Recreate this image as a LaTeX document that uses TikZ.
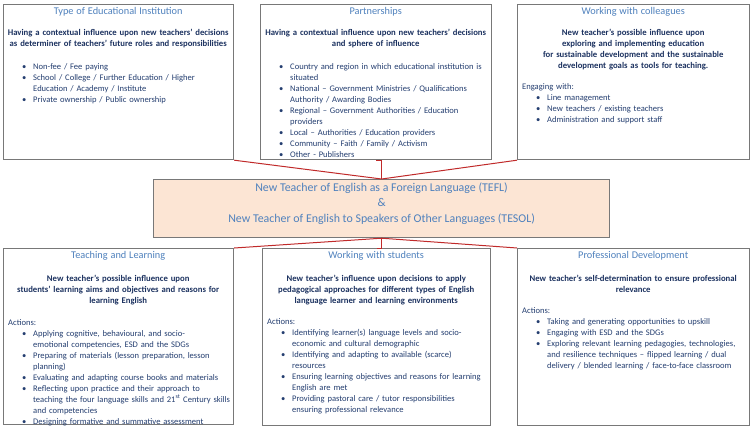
\documentclass[tikz,border=0pt]{standalone}
\usepackage{fontspec}
\setmainfont{Carlito}
\usetikzlibrary{positioning}

\definecolor{titleblue}{RGB}{79,129,189}
\definecolor{leadnavy}{RGB}{28,50,96}
\definecolor{bodyblue}{RGB}{36,62,112}
\definecolor{edgegray}{RGB}{120,120,120}
\definecolor{linkred}{RGB}{192,42,42}
\definecolor{peach}{RGB}{252,229,212}

% title, lead and list lines inside the panels
\newcommand{\paneltitle}[2][10pt]{{\centering\color{titleblue}\fontsize{10.3}{11}\selectfont #2\par}\vspace{#1}}
\newcommand{\panellead}[2][12pt]{{\centering\leftskip=-20pt plus 1fil\rightskip=-20pt plus 1fil\bfseries\fontsize{8.7}{11}\selectfont\color{leadnavy}#2\par}\vspace{#1}}
\newcommand{\bitem}[1]{\par\rightskip=-40pt plus 1fil\hangindent=25pt\hangafter=1\noindent\hbox to 25pt{\hskip14pt\textbullet\hfil}{\let\\\newline #1}\par}
\newcommand{\plainline}[1]{\par\rightskip=-40pt plus 1fil\noindent #1\par}

\begin{document}
\begin{tikzpicture}[x=1pt, y=-1pt,
    panel/.style={draw=edgegray, line width=1.2pt, fill=white, anchor=north west, inner sep=0pt},
    hub/.style={panel, fill=peach},
    txt/.style={anchor=north west, inner sep=0pt, align=left, text=bodyblue, font=\fontsize{8.55}{11}\selectfont},
    link/.style={draw=linkred, line width=1pt}]
  \useasboundingbox (0,0) rectangle (752,428);

  % ====== KHUNG CÁC Ô ======
  \node[panel, minimum width=230pt, minimum height=155pt] (inst) at (3,4) {};
  \node[panel, minimum width=231pt, minimum height=155pt] (part) at (260,4) {};
  \node[panel, minimum width=232pt, minimum height=155pt] (coll) at (517,4) {};
  \node[hub, minimum width=456pt, minimum height=58pt] (tefl) at (153,179) {};
  \node[panel, minimum width=230pt, minimum height=176pt] (teach) at (3,248) {};
  \node[panel, minimum width=228pt, minimum height=177pt] (stud) at (262,248) {};
  \node[panel, minimum width=232pt, minimum height=177pt] (prof) at (517,248) {};

  % ====== ĐƯỜNG NỐI ======
  \draw[link] (inst.south east) -- (tefl.north);
  \draw[link] (tefl.north) |- (part.south);
  \draw[link] (coll.south west) -- (tefl.north);
  \draw[link] (tefl.south) -- (teach.north east);
  \draw[link] (tefl.south) |- (stud.north);
  \draw[link] (tefl.south) -- (prof.north west);

  % ====== HÀNG TRÊN ======
  \node[txt, text width=220pt] (instText) at ([xshift=5pt, yshift=-3pt]inst.north west) {%
    \paneltitle{Type of Educational Institution}
    \panellead{Having a contextual influence upon new teachers’ decisions\\as determiner of teachers’ future roles and responsibilities}
    \bitem{Non-fee / Fee paying}
    \bitem{School / College / Further Education / Higher\\Education / Academy / Institute}
    \bitem{Private ownership / Public ownership}};

  \node[txt, text width=221pt] (partText) at ([xshift=5pt, yshift=-3pt]part.north west) {%
    \paneltitle{Partnerships}
    \panellead{Having a contextual influence upon new teachers’ decisions\\and sphere of influence}
    \bitem{Country and region in which educational institution is\\situated}
    \bitem{National – Government Ministries / Qualifications\\Authority / Awarding Bodies}
    \bitem{Regional – Government Authorities / Education\\providers}
    \bitem{Local – Authorities / Education providers}
    \bitem{Community – Faith / Family / Activism}
    \bitem{Other - Publishers}};

  \node[txt, text width=222pt] (collText) at ([xshift=5pt, yshift=-3pt]coll.north west) {%
    \paneltitle{Working with colleagues}
    \panellead[10pt]{New teacher’s possible influence upon\\exploring and implementing education\\for sustainable development and the sustainable\\development goals as tools for teaching.}
    \plainline{Engaging with:}
    \bitem{Line management}
    \bitem{New teachers / existing teachers}
    \bitem{Administration and support staff}};

  % ====== Ô GIỮA ======
  \node[align=center, text=titleblue, font=\fontsize{11.9}{15.5}\selectfont] (teflText) at ([yshift=5pt]tefl.center)
    {New Teacher of English as a Foreign Language (TEFL)\\\&\\New Teacher of English to Speakers of Other Languages (TESOL)};

  % ====== HÀNG DƯỚI ======
  \node[txt, text width=220pt] (teachText) at ([xshift=5pt, yshift=-3pt]teach.north west) {%
    \paneltitle[12pt]{Teaching and Learning}
    \panellead[11pt]{New teacher’s possible influence upon\\students’ learning aims and objectives and reasons for\\learning English}
    \plainline{Actions:}
    \bitem{Applying cognitive, behavioural, and socio-\\emotional competencies, ESD and the SDGs}
    \bitem{Preparing of materials (lesson preparation, lesson\\planning)}
    \bitem{Evaluating and adapting course books and materials}
    \bitem{Reflecting upon practice and their approach to\\teaching the four language skills and 21\textsuperscript{st} Century skills\\and competencies}
    \bitem{Designing formative and summative assessment}};

  \node[txt, text width=218pt] (studText) at ([xshift=5pt, yshift=-3pt]stud.north west) {%
    \paneltitle[12pt]{Working with students}
    \panellead[10pt]{New teacher’s influence upon decisions to apply\\pedagogical approaches for different types of English\\language learner and learning environments}
    \plainline{Actions:}
    \bitem{Identifying learner(s) language levels and socio-\\economic and cultural demographic}
    \bitem{Identifying and adapting to available (scarce)\\resources}
    \bitem{Ensuring learning objectives and reasons for learning\\English are met}
    \bitem{Providing pastoral care / tutor responsibilities\\ensuring professional relevance}};

  \node[txt, text width=222pt] (profText) at ([xshift=5pt, yshift=-3pt]prof.north west) {%
    \paneltitle[12pt]{Professional Development}
    \panellead[10pt]{New teacher’s self-determination to ensure professional\\relevance}
    \plainline{Actions:}
    \bitem{Taking and generating opportunities to upskill}
    \bitem{Engaging with ESD and the SDGs}
    \bitem{Exploring relevant learning pedagogies, technologies,\\and resilience techniques – flipped learning / dual\\delivery / blended learning / face-to-face classroom}};
\end{tikzpicture}
\end{document}
